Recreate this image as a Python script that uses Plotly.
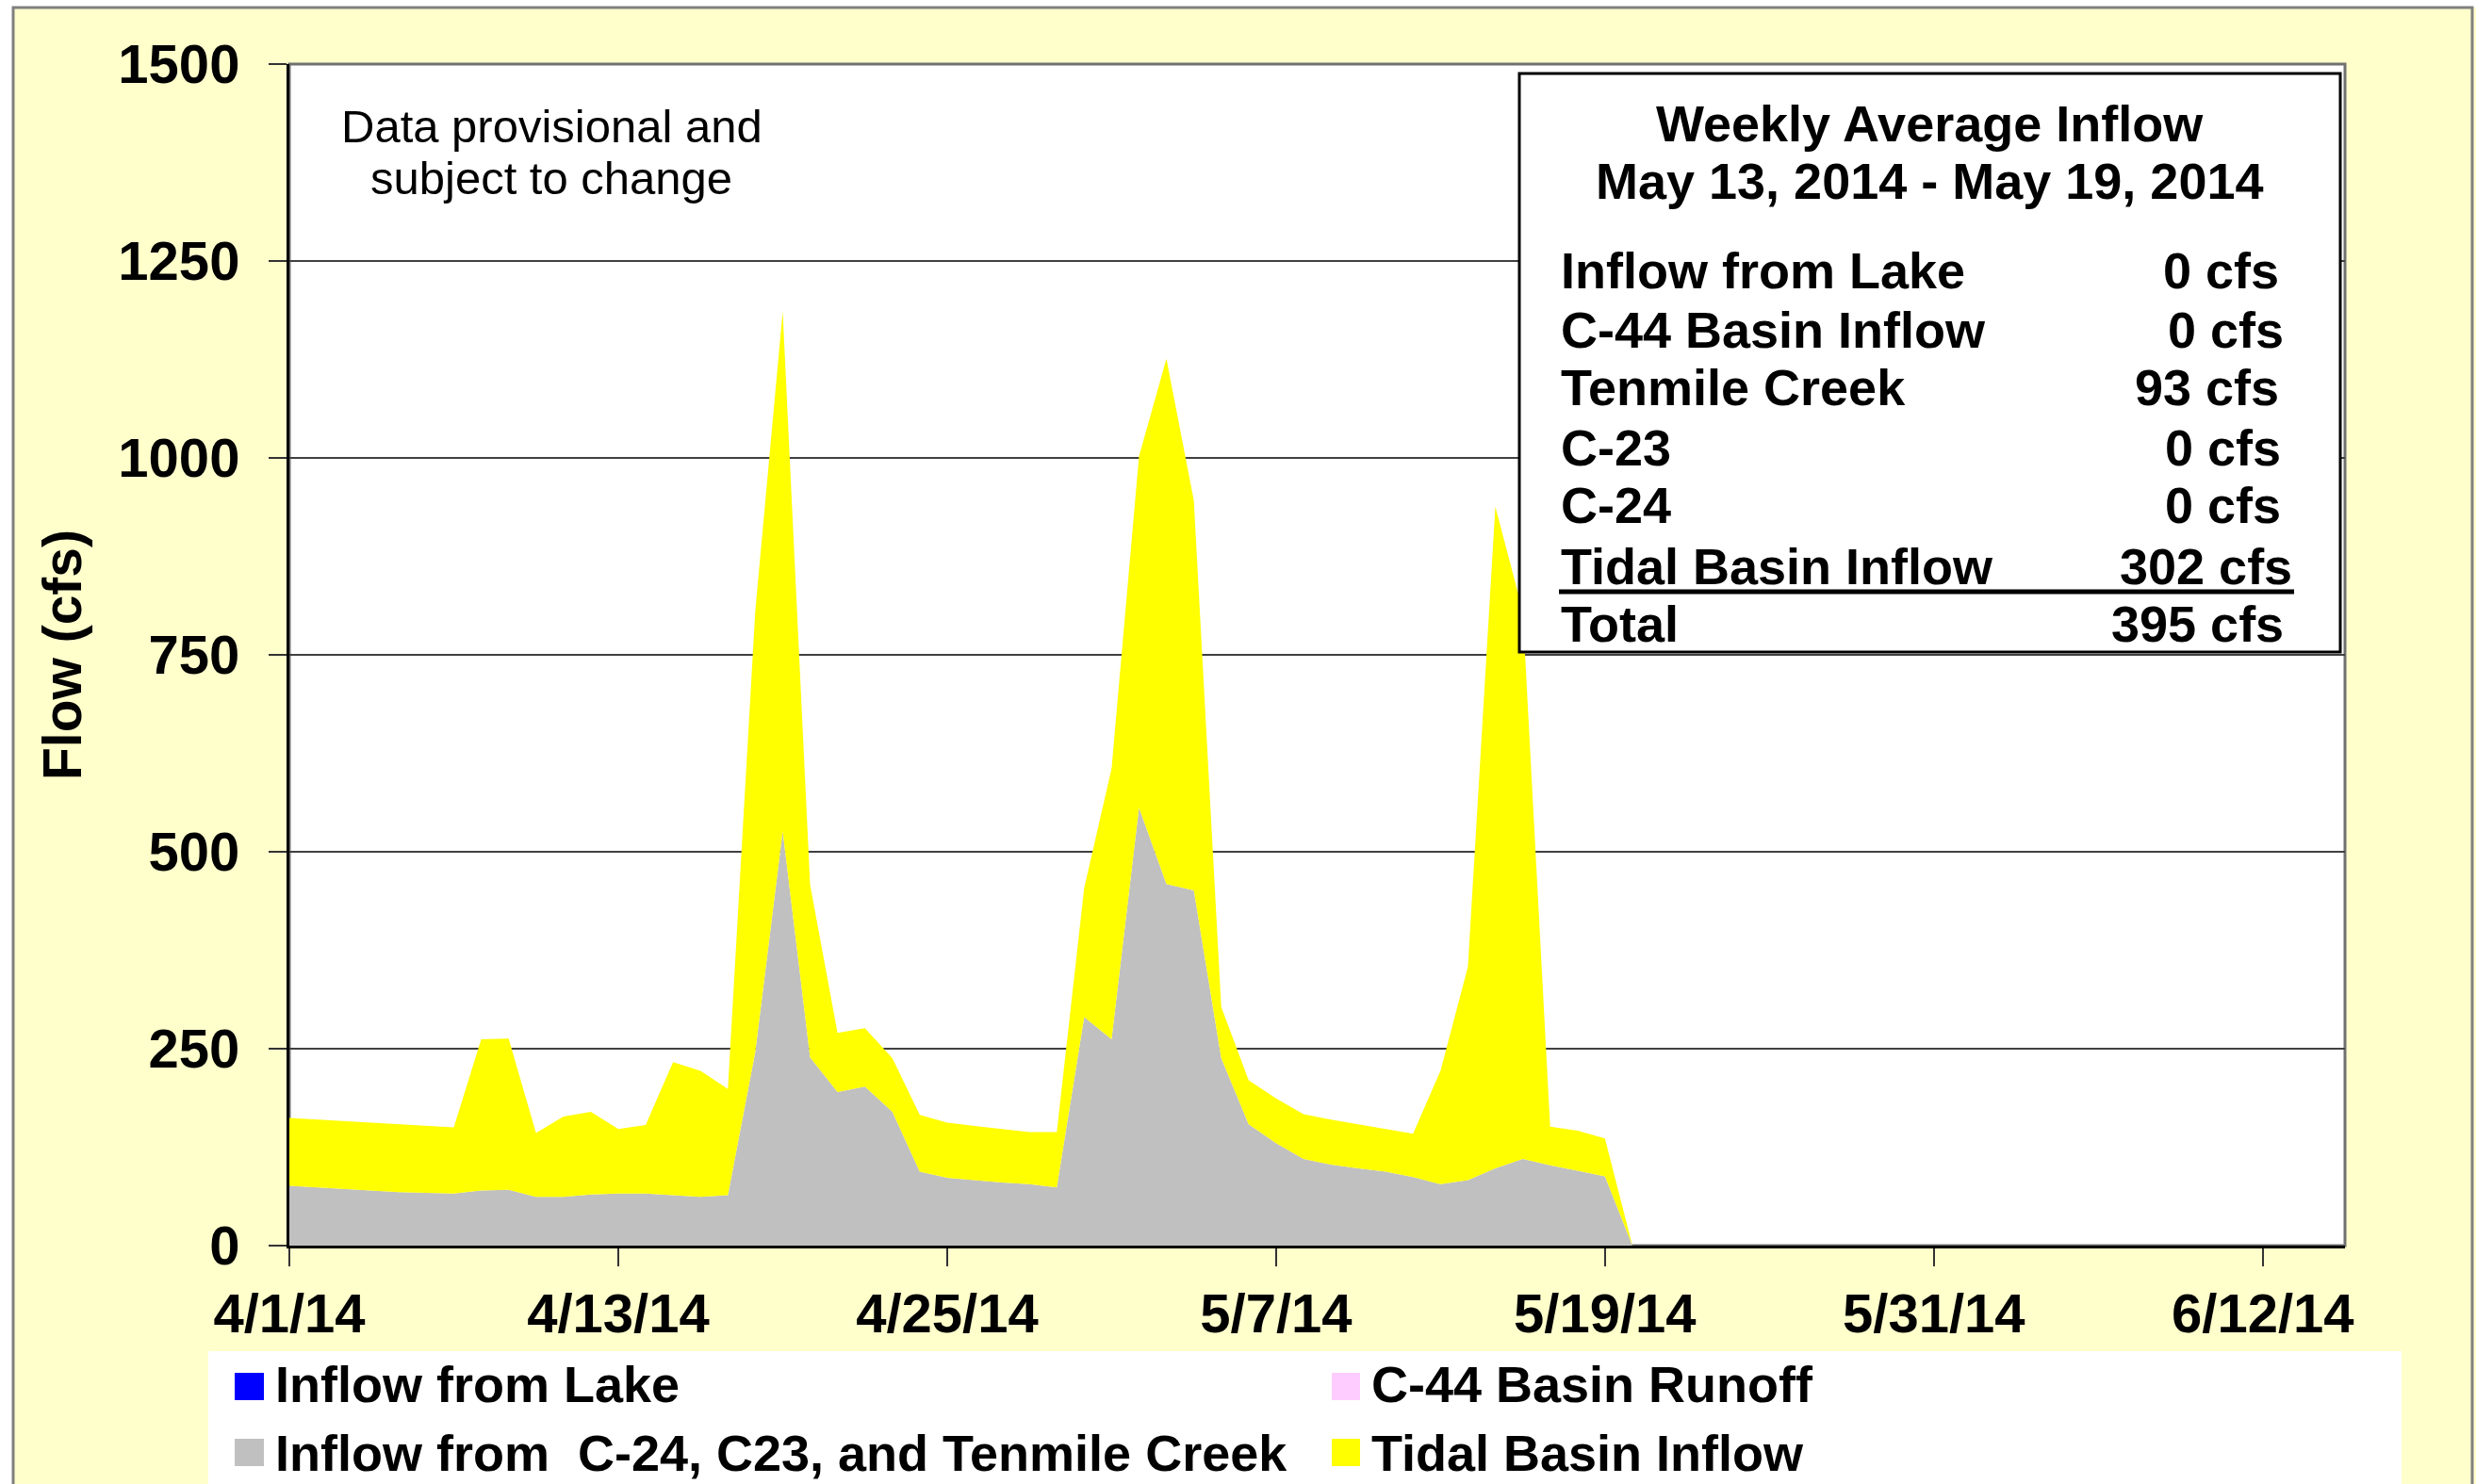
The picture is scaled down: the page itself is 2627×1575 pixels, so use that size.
import plotly.graph_objects as go
import pandas as pd

# ---------------- data ----------------
dates = pd.date_range("2014-04-01", periods=50, freq="D")

lake_inflow = [0, 0, 0, 0, 0, 0, 0, 0, 0, 0,
               0, 0, 0, 0, 0, 0, 0, 0, 0, 0,
               0, 0, 0, 0, 0, 0, 0, 0, 0, 0,
               0, 0, 0, 0, 0, 0, 0, 0, 0, 0,
               0, 0, 0, 0, 0, 0, 0, 0, 0, 0]
c44_runoff = [0, 0, 0, 0, 0, 0, 0, 0, 0, 0,
              0, 0, 0, 0, 0, 0, 0, 0, 0, 0,
              0, 0, 0, 0, 0, 0, 0, 0, 0, 0,
              0, 0, 0, 0, 0, 0, 0, 0, 0, 0,
              0, 0, 0, 0, 0, 0, 0, 0, 0, 0]
c24_c23_tenmile = [76, 74, 72, 70, 68, 67, 66, 70, 71, 62,
                   62, 65, 66, 66, 64, 62, 64, 246, 526, 239,
                   195, 202, 170, 94, 86, 83, 80, 78, 74, 290,
                   262, 556, 459, 451, 238, 154, 130, 110, 103, 98,
                   94, 87, 78, 83, 98, 110, 102, 95, 88, 0]
tidal_basin = [86, 86, 86, 86, 86, 85, 84, 192, 192, 81,
               102, 105, 82, 87, 169, 160, 135, 560, 660, 219,
               75, 74, 68, 72, 70, 69, 68, 66, 70, 164,
               344, 446, 667, 495, 65, 56, 57, 57, 57, 56,
               54, 55, 144, 271, 840, 696, 49, 51, 48, 0]

series_names = ["Inflow from Lake", "C-44 Basin Runoff",
                "Inflow from  C-24, C23, and Tenmile Creek", "Tidal Basin Inflow"]
series_colors = ["#0000FF", "#FFCCFF", "#C0C0C0", "#FFFF00"]

tick_dates = ["2014-04-01", "2014-04-13", "2014-04-25", "2014-05-07",
              "2014-05-19", "2014-05-31", "2014-06-12"]
tick_labels = ["4/1/14", "4/13/14", "4/25/14", "5/7/14", "5/19/14", "5/31/14", "6/12/14"]
y_ticks = [0, 250, 500, 750, 1000, 1250, 1500]

box_title = ["Weekly Average Inflow", "May 13, 2014 - May 19, 2014"]
summary_labels = ["Inflow from Lake", "C-44 Basin Inflow", "Tenmile Creek",
                  "C-23", "C-24", "Tidal Basin Inflow", "Total"]
summary_values = ["0 cfs", "0 cfs", "93 cfs", "0 cfs", "0 cfs", "302 cfs", "395 cfs"]
note_lines = ["Data provisional and", "subject to change"]

# ---------------- layout helpers ----------------
W, H = 2627, 1575
L, R, T, B = 307, 2488, 68, 1322
FONT = "Liberation Sans, Arial, sans-serif"


def px(x):
    return (x - L) / (R - L)


def py(y):
    return (B - y) / (B - T)


fig = go.Figure()

all_series = [lake_inflow, c44_runoff, c24_c23_tenmile, tidal_basin]
for name, vals, col in zip(series_names, all_series, series_colors):
    fig.add_trace(go.Scatter(
        x=dates, y=vals, name=name, stackgroup="one", mode="lines",
        line=dict(width=0, color=col), fillcolor=col, showlegend=False,
    ))

# legend entries (two columns)
legend_ids = ["legend", "legend2", "legend", "legend2"]
for name, col, lid in zip(series_names, series_colors, legend_ids):
    fig.add_trace(go.Scatter(
        x=[None], y=[None], name=name, mode="markers",
        marker=dict(symbol="square", size=16, color=col, line=dict(width=0)),
        legend=lid, showlegend=True,
    ))

shapes = []
# white strips outside the outer border
shapes.append(dict(type="rect", xref="paper", yref="paper", x0=px(0), x1=px(14),
                   y0=py(1600), y1=py(0), fillcolor="white", line=dict(width=0), layer="below"))
shapes.append(dict(type="rect", xref="paper", yref="paper", x0=px(0), x1=px(W),
                   y0=py(8), y1=py(0), fillcolor="white", line=dict(width=0), layer="below"))
# outer border
shapes.append(dict(type="rect", xref="paper", yref="paper", x0=px(14), x1=px(2623),
                   y0=py(1600), y1=py(8), line=dict(color="#808080", width=3), layer="below"))
# legend background
shapes.append(dict(type="rect", xref="paper", yref="paper", x0=px(221), x1=px(2548),
                   y0=py(1600), y1=py(1434), fillcolor="white", line=dict(width=0), layer="below"))
# plot area frame
shapes.append(dict(type="rect", xref="paper", yref="paper", x0=0, x1=1, y0=0, y1=1,
                   line=dict(color="#707070", width=3), layer="below"))
# summary box
shapes.append(dict(type="rect", xref="paper", yref="paper", x0=px(1612), x1=px(2483),
                   y0=py(692), y1=py(78), fillcolor="white",
                   line=dict(color="black", width=3), layer="above"))
shapes.append(dict(type="line", xref="paper", yref="paper", x0=px(1654), x1=px(2434),
                   y0=py(628), y1=py(628), line=dict(color="black", width=5), layer="above"))
# legend swatches
sw_x = [(249, 280), (1413, 1443), (249, 280), (1413, 1443)]
sw_y = [(1457, 1486), (1457, 1486), (1527, 1556), (1527, 1556)]
for (x0, x1), (y0, y1), col in zip(sw_x, sw_y, series_colors):
    shapes.append(dict(type="rect", xref="paper", yref="paper", x0=px(x0), x1=px(x1),
                       y0=py(y1), y1=py(y0), fillcolor=col, line=dict(width=0), layer="above"))

annotations = []
bold = dict(family=FONT, size=54, color="black", weight="bold")
for txt, yc in zip(box_title, [131, 192]):
    annotations.append(dict(text=txt, x=px(2047), y=py(yc), xref="paper", yref="paper",
                            xanchor="center", yanchor="middle", showarrow=False, font=bold))
row_y = [287, 350, 411, 475, 536, 601, 662]
val_x = [2420, 2425, 2420, 2422, 2422, 2434, 2425]
for lab, val, yc, vx in zip(summary_labels, summary_values, row_y, val_x):
    annotations.append(dict(text=lab, x=px(1654), y=py(yc), xref="paper", yref="paper",
                            xanchor="left", yanchor="middle", showarrow=False, font=bold))
    annotations.append(dict(text=val, x=px(vx), y=py(yc), xref="paper", yref="paper",
                            xanchor="right", yanchor="middle", showarrow=False, font=bold))
for txt, yc in zip(note_lines, [134, 189]):
    annotations.append(dict(text=txt, x=px(585), y=py(yc), xref="paper", yref="paper",
                            xanchor="center", yanchor="middle", showarrow=False,
                            font=dict(family=FONT, size=49, color="black")))

legend_common = dict(
    font=dict(family=FONT, size=54, color="black", weight="bold"),
    bgcolor="rgba(0,0,0,0)", borderwidth=0, traceorder="normal",
    orientation="v", xanchor="left", yanchor="top", tracegroupgap=0,
)

fig.update_layout(
    width=W, height=H,
    margin=dict(l=L, r=W - R, t=T, b=H - B, pad=0, autoexpand=False),
    paper_bgcolor="#FFFFCC", plot_bgcolor="white",
    font=dict(family=FONT, color="black"),
    showlegend=True,
    legend=dict(x=px(252), y=py(1425), **legend_common),
    legend2=dict(x=px(1415), y=py(1425), **legend_common),
    xaxis=dict(
        type="date", range=["2014-04-01", "2014-06-15"],
        tickvals=tick_dates, ticktext=tick_labels,
        tickfont=dict(family=FONT, size=58, color="black", weight="bold"),
        ticks="outside", ticklen=19, tickwidth=2, tickcolor="#333333",
        showgrid=False, showline=True, linecolor="black", linewidth=3,
        zeroline=False, ticklabelstandoff=0, automargin=False,
    ),
    yaxis=dict(
        range=[0, 1500], tickvals=y_ticks,
        tickfont=dict(family=FONT, size=58, color="black", weight="bold"),
        ticks="outside", ticklen=19, tickwidth=2, tickcolor="#333333",
        showgrid=True, gridcolor="#404040", gridwidth=2,
        showline=True, linecolor="black", linewidth=3, zeroline=False,
        ticklabelstandoff=19, automargin=False,
        title=dict(text="Flow (cfs)", standoff=21,
                   font=dict(family=FONT, size=57, color="black", weight="bold")),
    ),
    shapes=shapes, annotations=annotations,
)

fig.write_html("out.html", include_plotlyjs=True, config={"displayModeBar": False},
               post_script="document.body.style.margin='0';document.body.style.overflow='hidden';")
